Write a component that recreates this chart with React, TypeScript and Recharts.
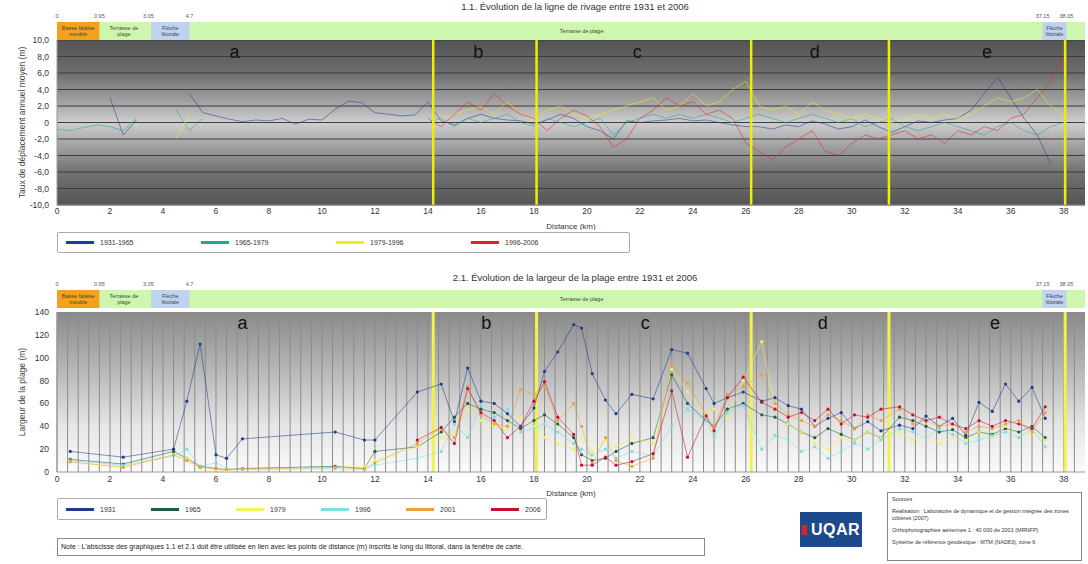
import React from 'react';
import {
  ComposedChart,
  Line,
  XAxis,
  YAxis,
  CartesianGrid,
  ReferenceLine,
  ReferenceArea,
  ReferenceDot,
} from 'recharts';

const FONT = '"Liberation Sans", Arial, sans-serif';
const X_MAX = 38.8;

// shared x axis (km)
const xTicks = [0, 2, 4, 6, 8, 10, 12, 14, 16, 18, 20, 22, 24, 26, 28, 30, 32, 34, 36, 38];
const sectorBounds = [14.2, 18.1, 26.2, 31.4, 38.05];
const sectorLetters = ['a', 'b', 'c', 'd', 'e'];
const sectorLetterKm = [6.7, 15.9, 21.9, 28.6, 35.1];

// header strip (drawn positions of the zone limits, not to scale on the left)
const zoneTicks = [0, 1.6, 3.45, 5.0, 37.2, 38.1];
const zoneTickLabels = ['0', '0.95', '3.05', '4.7', '37.15', '38.05'];
const zoneFrom = [0, 1.6, 3.55, 5.0, 37.2];
const zoneTo = [1.6, 3.45, 5.0, 34.6, 38.1];
const zoneFill = ['#f4a21c', 'none', '#bfd2f2', 'none', '#bfd2f2'];
const zoneText = [['Basse falaise', 'meuble'], ['Terrasse de', 'plage'], ['Flèche', 'littorale'], ['Terrasse de plage'], ['Flèche', 'littorale']];

// ---- 1.1 taux de déplacement annuel moyen (m/an) ----
const topYTicks = [-10, -8, -6, -4, -2, 0, 2, 4, 6, 8, 10];
const kmTop = [
  0, 0.5, 1, 1.5, 2, 2.5, 3, 3.5, 4, 4.5, 5, 5.5, 6, 6.5, 7, 7.5, 8, 8.5, 9, 9.5,
  10, 10.5, 11, 11.5, 12, 12.5, 13, 13.5, 14, 14.5, 15, 15.5, 16, 16.5, 17, 17.5, 18, 18.5, 19, 19.5,
  20, 20.5, 21, 21.5, 22, 22.5, 23, 23.5, 24, 24.5, 25, 25.5, 26, 26.5, 27, 27.5, 28, 28.5, 29, 29.5,
  30, 30.5, 31, 31.5, 32, 32.5, 33, 33.5, 34, 34.5, 35, 35.5, 36, 36.5, 37, 37.5, 38,
];
const p1931_1965 = [
  null, null, null, null, 3.0, -1.5, 0.3, null, null, null, 3.5, 1.2, 0.8, 0.4, 0.1, 0.3, 0.2, 0.5, -0.2, 0.4,
  0.3, 1.6, 2.6, 2.4, 1.2, 1.0, 0.8, 0.9, 2.5, 0.2, -0.3, 0.5, 1.0, 0.5, 0.3, 0.2, -0.2, 0.3, 1.0, 0.5,
  -0.5, -1.0, -2.0, 0.2, 0.0, 0.2, 0.3, 0.5, 0.2, 0.3, 0.0, -0.3, -0.5, -0.5, -0.8, -0.3, -0.5, 0.2, -0.2, -0.8,
  -0.5, 0.3, -0.5, -1.2, -0.5, 0.2, 0.0, 0.3, 0.5, 1.5, 3.5, 5.5, 3.0, 0.5, -1.5, -5.0, null,
];
const p1965_1979 = [
  -0.8, -1.0, -0.6, -0.3, -0.5, -1.0, 0.5, null, null, 1.5, -1.0, 0.5, null, null, null, null, null, null, null, null,
  null, null, null, null, null, null, null, null, 0.0, 0.5, -0.5, 0.5, 0.0, 0.5, 1.0, 0.0, -0.5, 0.5, 0.0, -0.5,
  0.0, 0.5, -1.5, 0.0, 0.5, 1.0, 0.5, 1.0, 0.5, 1.0, 0.5, 0.0, 0.5, 1.0, 0.5, 0.0, 0.5, 1.0, 0.5, 0.0,
  0.5, -0.5, 0.0, 0.5, -0.5, -1.0, -0.5, 0.0, -0.5, -1.0, -1.5, -0.5, 0.0, -1.0, -1.5, -0.5, 0.0,
];
const p1979_1996 = [
  null, null, null, null, null, null, null, null, null, -2.0, 1.0, null, null, null, null, null, null, null, null, null,
  null, null, null, null, null, null, null, null, null, 0.5, 1.0, 1.5, 2.0, 1.0, 2.5, 1.0, 0.5, 1.5, 2.0, 1.0,
  0.5, 1.0, 1.5, 2.0, 2.5, 3.0, 1.5, 2.0, 3.5, 2.0, 2.5, 4.0, 5.0, 2.0, 1.5, 2.0, 1.0, 2.5, 1.5, 1.0,
  0.5, 1.0, 0.5, 0.0, 0.5, 1.0, 0.5, 1.0, 0.5, 1.0, 2.0, 3.0, 2.5, 3.0, 4.0, 2.0, 1.0,
];
const p1996_2006 = [
  null, null, null, null, null, null, null, null, null, null, null, null, null, null, null, null, null, null, null, null,
  null, null, null, null, null, null, null, null, 0.5, -0.5, 1.0, 2.5, 1.5, 3.5, 2.0, 1.0, 0.5, -1.0, 0.5, 1.5,
  0.8, -0.5, -3.0, -2.0, 0.5, 1.5, 3.0, 2.0, 2.5, 1.0, 1.5, 0.5, -2.5, -3.5, -4.5, -3.0, -2.0, -1.0, -3.5, -4.0,
  -2.5, -1.5, -2.0, -1.5, -1.0, -2.0, -1.5, -2.5, -1.0, -1.5, -0.5, -1.0, 0.5, 1.0, 3.0, 5.0, 8.0,
];
const topSeries = [
  { key: 'p1', name: '1931-1965', color: '#1c3f94', values: p1931_1965 },
  { key: 'p2', name: '1965-1979', color: '#23a88a', values: p1965_1979 },
  { key: 'p3', name: '1979-1996', color: '#eeee10', values: p1979_1996 },
  { key: 'p4', name: '1996-2006', color: '#e0222a', values: p1996_2006 },
];

// ---- 2.1 largeur de la plage (m) ----
const botYTicks = [0, 20, 40, 60, 80, 100, 120, 140];
const kmBot = [
  0.5, 2.5, 4.4, 4.9, 5.4, 6.0, 6.4, 7.0, 10.5, 11.6, 12.0,
  13.6, 14.5, 15.0, 15.5, 16.0, 16.5, 17.0, 17.5, 18.0, 18.4,
  18.9, 19.5, 19.8, 20.2, 20.7, 21.1, 21.7, 22.5, 23.2, 23.8,
  24.5, 24.8, 25.3, 25.9, 26.6, 27.1, 27.6, 28.1, 28.6, 29.1,
  29.6, 30.1, 30.6, 31.1, 31.8, 32.3, 32.8, 33.3, 33.8, 34.3,
  34.8, 35.3, 35.8, 36.3, 36.8, 37.3,
];
const w1931 = [
  18, 13, 20, 62, 112, 15, 12, 29, 35, 28, 28,
  70, 77, 44, 91, 62, 60, 51, 40, 56, 88,
  105, 129, 126, 86, 63, 51, 68, 64, 107, 104,
  73, 60, 65, 70, 62, 65, 58, 55, 40, 47,
  52, 38, 44, 36, 41, 38, 49, 40, 47, 32,
  61, 53, 77, 62, 74, 47,
];
const w1965 = [
  11, 7, 18, 12, 5, 3, 2, 3, 5, 3, 18,
  22, 35, 48, 60, 55, 52, 45, 38, 45, 50,
  42, 30, 15, 10, 12, 18, 25, 30, 85, 60,
  45, 40, 55, 60, 50, 48, 42, 35, 30, 38,
  33, 28, 35, 30, 48, 45, 40, 35, 37, 30,
  35, 33, 38, 35, 40, 30,
];
const w1979 = [
  8, 5, 15, 12, 3, 2, 1, 2, 4, 5, 10,
  22, 30, 35, 55, 45, 40, 38, 48, 40, 30,
  25, 20, 30, 18, 28, 22, 30, 25, 90, 70,
  50, 55, 48, 80, 114, 55, 42, 35, 25, 20,
  30, 28, 35, 30, 35, 28, 30, 25, 30, 28,
  35, 30, 40, 30, 35, 28,
];
const w1996 = [
  10, 6, 14, 20, 5, 8, 3, 2, 3, 2, 6,
  12, 18, 42, 30, 58, 48, 55, 35, 38, 42,
  35, 25, 20, 15, 20, 12, 18, 14, 40, 55,
  45, 30, 52, 58, 20, 32, 28, 18, 22, 12,
  18, 25, 20, 28, 38, 35, 30, 38, 33, 25,
  28, 32, 35, 30, 38, 22,
];
const w2001 = [
  9, 4, 15, 10, 4, 3, 2, 3, 4, 3, 8,
  25, 38, 30, 75, 50, 42, 40, 72, 68, 75,
  45, 60, 40, 8, 30, 10, 5, 12, 95, 78,
  50, 40, 68, 75, 85, 60, 50, 45, 40, 50,
  45, 38, 50, 45, 55, 42, 45, 40, 42, 35,
  40, 38, 42, 45, 35, 52,
];
const w2006 = [
  null, null, null, null, null, null, null, null, null, null, null,
  28, 39, 25, 73, 52, 45, 30, 40, 62, 79,
  48, 33, 6, 6, 13, 6, 9, 16, 71, 13,
  49, 36, 65, 83, 61, 55, 48, 52, 45, 55,
  42, 50, 48, 55, 57, 50, 45, 48, 42, 38,
  45, 40, 45, 42, 38, 57,
];
const botSeries = [
  { key: 'w1', name: '1931', color: '#1d3d8c', values: w1931 },
  { key: 'w2', name: '1965', color: '#1f5e45', values: w1965 },
  { key: 'w3', name: '1979', color: '#f2f25a', values: w1979 },
  { key: 'w4', name: '1996', color: '#78dfe6', values: w1996 },
  { key: 'w5', name: '2001', color: '#e9a23a', values: w2001 },
  { key: 'w6', name: '2006', color: '#c8102e', values: w2006 },
];
const stripeKm = Array.from({ length: 97 }, (_, i) => Math.round(i * 4) / 10);

const topData = kmTop.map((km, i) => {
  const row: any = { km };
  topSeries.forEach((s) => (row[s.key] = s.values[i]));
  return row;
});
const botData = kmBot.map((km, i) => {
  const row: any = { km };
  botSeries.forEach((s) => (row[s.key] = s.values[i]));
  return row;
});
const stripData = [{ km: 0, v: 0 }, { km: X_MAX, v: 1 }];

const tickStyle = { fontSize: 8.5, fill: '#333', fontFamily: FONT };

function ZoneText(props: any) {
  const { viewBox, lines } = props;
  const { x, y, width, height } = viewBox;
  const lh = 6.5;
  const y0 = y + height / 2 - ((lines.length - 1) * lh) / 2 + 2;
  return (
    <text x={x + width / 2} textAnchor="middle" fontSize={5.5} fill="#444" fontFamily={FONT}>
      {lines.map((l: string, i: number) => (
        <tspan key={i} x={x + width / 2} y={y0 + i * lh}>
          {l}
        </tspan>
      ))}
    </text>
  );
}

function ZoneStrip({ top }: { top: number }) {
  return (
    <div style={{ position: 'absolute', left: 0, top }}>
      <ComposedChart width={1088} height={30} data={stripData} margin={{ top: 0, right: 3, left: 57, bottom: 0 }}>
        <XAxis
          type="number"
          dataKey="km"
          orientation="top"
          domain={[0, X_MAX]}
          ticks={zoneTicks}
          tickFormatter={(v: number, i: number) => zoneTickLabels[i]}
          axisLine={false}
          tickLine={false}
          tickSize={2}
          height={12}
          tick={{ fontSize: 5.5, fill: '#555', fontFamily: FONT }}
          interval={0}
        />
        <YAxis type="number" domain={[0, 1]} hide />
        <ReferenceArea x1={0} x2={X_MAX} y1={0} y2={1} fill="#cdf7ad" fillOpacity={1} stroke="none" ifOverflow="extendDomain" />
        {zoneFrom.map((x1, i) => (
          <ReferenceArea
            key={i}
            x1={x1}
            x2={zoneTo[i]}
            y1={0}
            y2={1}
            fill={zoneFill[i]}
            fillOpacity={zoneFill[i] === 'none' ? 0 : 1}
            stroke="none"
            label={(p: any) => <ZoneText {...p} lines={zoneText[i]} />}
          />
        ))}
        <Line dataKey="v" stroke="none" dot={false} isAnimationActive={false} />
      </ComposedChart>
    </div>
  );
}

function LegendBox({ items, left, top, width, height, step }: any) {
  return (
    <div
      style={{
        position: 'absolute', left, top, width, height, border: '1px solid #aaa', borderRadius: 2,
        background: '#fff', boxSizing: 'border-box', fontFamily: FONT, fontSize: 7, color: '#333',
      }}
    >
      {items.map((s: any, i: number) => (
        <div key={s.key} style={{ position: 'absolute', left: 8 + i * step, top: 0, height: height - 2, display: 'flex', alignItems: 'center' }}>
          <div style={{ width: 28, height: 3, background: s.color, marginRight: 6 }} />
          <span>{s.name}</span>
        </div>
      ))}
    </div>
  );
}

export default function App() {
  return (
    <div style={{ position: 'absolute', left: 0, top: 0, width: 1088, height: 564, background: '#fff', fontFamily: FONT, overflow: 'hidden' }}>
      <div style={{ position: 'absolute', left: 375, width: 400, top: 1, textAlign: 'center', fontSize: 9.5, color: '#333' }}>
        1.1. Évolution de la ligne de rivage entre 1931 et 2006
      </div>

      <div style={{ position: 'absolute', left: 0, top: 0 }}>
        <ComposedChart width={1088} height={230} data={topData} margin={{ top: 40, right: 3, left: 0, bottom: 0 }} style={{ fontFamily: FONT }}>
          <defs>
            <linearGradient id="gTop" x1="0" y1="0" x2="0" y2="1">
              <stop offset="0" stopColor="#535353" />
              <stop offset="0.2" stopColor="#6e6e6e" />
              <stop offset="0.38" stopColor="#a4a4a4" />
              <stop offset="0.5" stopColor="#cfcfcf" />
              <stop offset="0.62" stopColor="#a8a8a8" />
              <stop offset="0.8" stopColor="#727272" />
              <stop offset="1" stopColor="#555555" />
            </linearGradient>
          </defs>
          <CartesianGrid fill="url(#gTop)" fillOpacity={1} vertical={false} stroke="#3d3d3d" />
          <XAxis
            type="number"
            dataKey="km"
            domain={[0, X_MAX]}
            ticks={xTicks}
            interval={0}
            tick={tickStyle}
            tickLine={false}
            tickSize={1}
            axisLine={{ stroke: '#999' }}
            height={25}
            label={{ value: 'Distance (km)', position: 'insideBottom', offset: 1, fontSize: 8, fill: '#333' }}
          />
          <YAxis
            type="number"
            domain={[-10, 10]}
            ticks={topYTicks}
            interval={0}
            width={57}
            tick={tickStyle}
            tickLine={false}
            axisLine={{ stroke: '#999' }}
            tickFormatter={(v: number) => (v === 0 ? '0' : v.toFixed(1).replace('.', ','))}
            label={{ value: 'Taux de déplacement annuel moyen (m)', angle: -90, position: 'center', dx: -7, fontSize: 8.5, fill: '#444' }}
          />
          {topSeries.map((s) => (
            <Line
              key={s.key}
              dataKey={s.key}
              name={s.name}
              type="linear"
              stroke={s.color}
              strokeOpacity={0.55}
              strokeWidth={1}
              dot={false}
              connectNulls={false}
              isAnimationActive={false}
            />
          ))}
          {sectorBounds.map((x) => (
            <ReferenceLine key={x} x={x} stroke="#eeee00" strokeWidth={2.5} />
          ))}
          {sectorLetters.map((l, i) => (
            <ReferenceDot key={l} x={sectorLetterKm[i]} y={8.6} r={1} fill="none" stroke="none"
              label={{ value: l, position: 'center', fontSize: 18, fill: '#111' }} />
          ))}
        </ComposedChart>
      </div>
      <ZoneStrip top={10} />

      <LegendBox items={topSeries} left={57} top={232} width={573} height={21} step={135} />

      <div style={{ position: 'absolute', left: 375, width: 400, top: 272, textAlign: 'center', fontSize: 9.5, color: '#333' }}>
        2.1. Évolution de la largeur de la plage entre 1931 et 2006
      </div>

      <div style={{ position: 'absolute', left: 0, top: 270 }}>
        <ComposedChart width={1088} height={230} data={botData} margin={{ top: 42, right: 3, left: 0, bottom: 0 }} style={{ fontFamily: FONT }}>
          <defs>
            <linearGradient id="gBot" x1="0" y1="0" x2="0" y2="1">
              <stop offset="0" stopColor="#8a8a8a" />
              <stop offset="0.35" stopColor="#b5b5b5" />
              <stop offset="0.7" stopColor="#e4e4e4" />
              <stop offset="1" stopColor="#fbfbfb" />
            </linearGradient>
          </defs>
          <CartesianGrid fill="url(#gBot)" fillOpacity={1} vertical={false} horizontal={false} />
          <XAxis
            type="number"
            dataKey="km"
            domain={[0, X_MAX]}
            ticks={xTicks}
            interval={0}
            tick={tickStyle}
            tickLine={false}
            tickSize={2}
            axisLine={{ stroke: '#999' }}
            height={28}
            label={{ value: 'Distance (km)', position: 'insideBottom', offset: 4, fontSize: 8, fill: '#333' }}
          />
          <YAxis
            type="number"
            domain={[0, 140]}
            ticks={botYTicks}
            interval={0}
            width={57}
            tick={tickStyle}
            tickLine={false}
            axisLine={{ stroke: '#999' }}
            label={{ value: 'Largeur de la plage (m)', angle: -90, position: 'center', dx: -7, fontSize: 8.5, fill: '#444' }}
          />
          {stripeKm.map((x) => (
            <ReferenceLine key={'s' + x} x={x} stroke="#8c8c8c" strokeWidth={1} />
          ))}
          {sectorBounds.map((x) => (
            <ReferenceLine key={x} x={x} stroke="#f2f24a" strokeWidth={3} />
          ))}
          {botSeries.map((s) => (
            <Line
              key={s.key}
              dataKey={s.key}
              name={s.name}
              type="linear"
              stroke={s.color}
              strokeOpacity={0.55}
              strokeWidth={1}
              dot={{ r: 1.6, fill: s.color, stroke: 'none' }}
              connectNulls={false}
              isAnimationActive={false}
            />
          ))}
          {sectorLetters.map((l, i) => (
            <ReferenceDot key={l} x={sectorLetterKm[i] + 0.3} y={131} r={1} fill="none" stroke="none"
              label={{ value: l, position: 'center', fontSize: 18, fill: '#111' }} />
          ))}
        </ComposedChart>
      </div>
      <ZoneStrip top={278} />

      <LegendBox items={botSeries} left={57} top={498} width={490} height={22} step={85} />

      <div
        style={{
          position: 'absolute', left: 57, top: 538, width: 648, height: 18, border: '1px solid #888',
          boxSizing: 'border-box', fontSize: 7, color: '#222', lineHeight: '16px', paddingLeft: 3, whiteSpace: 'nowrap',
        }}
      >
        Note : L'abscisse des graphiques 1.1 et 2.1 doit être utilisée  en lien avec les points de distance (m) inscrits le long du littoral, dans la fenêtre de carte.
      </div>

      <div style={{ position: 'absolute', left: 800, top: 512, width: 62, height: 35, background: '#1d4a8c', display: 'flex', alignItems: 'center', justifyContent: 'center' }}>
        <div style={{ width: 5, height: 10, background: '#d22', marginRight: 4 }} />
        <span style={{ color: '#fff', fontWeight: 'bold', fontSize: 16, letterSpacing: 0.5 }}>UQAR</span>
      </div>

      <div
        style={{
          position: 'absolute', left: 887, top: 492, width: 195, height: 69, border: '1px solid #888',
          boxSizing: 'border-box', fontSize: 5.5, color: '#333', padding: '3px 4px', lineHeight: '7px',
        }}
      >
        <div>Sources</div>
        <div style={{ marginTop: 5 }}>Réalisation : Laboratoire de dynamique et de gestion intégrée des zones côtières (2007)</div>
        <div style={{ marginTop: 5 }}>Orthophotographies aériennes 1 : 40 000 de 2001 (MRNFP)</div>
        <div style={{ marginTop: 5 }}>Système de référence géodésique : MTM (NAD83), zone 6</div>
      </div>
    </div>
  );
}
